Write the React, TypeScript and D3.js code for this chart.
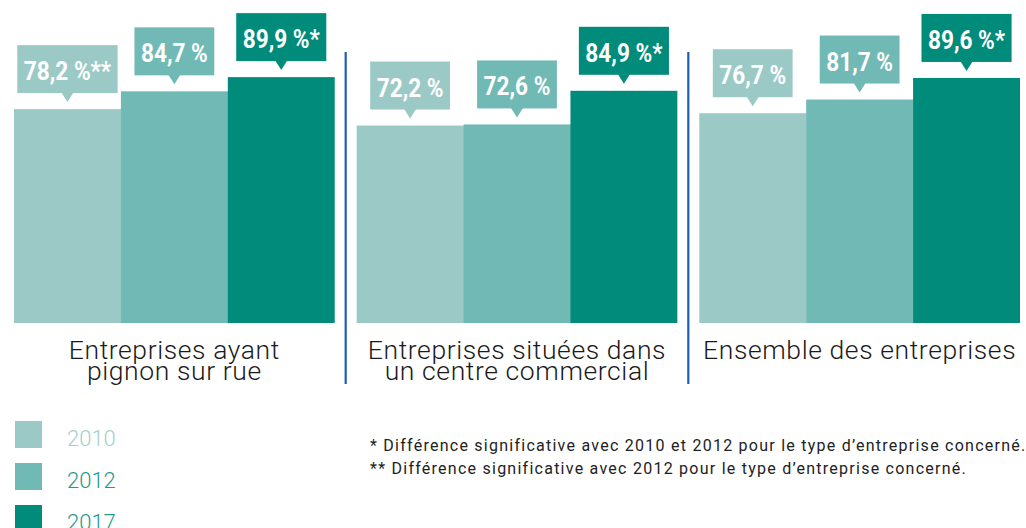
import React, { useEffect, useRef } from "react";
import * as d3 from "d3";

const categories = ["g1", "g2", "g3"];
const categoryLines = [
  ["Entreprises ayant", "pignon sur rue"],
  ["Entreprises situées dans", "un centre commercial"],
  ["Ensemble des entreprises"],
];
const years = ["2010", "2012", "2017"];
const values2010 = [78.2, 72.2, 76.7];
const values2012 = [84.7, 72.6, 81.7];
const values2017 = [89.9, 84.9, 89.6];
const marks2010 = ["**", "", ""];
const marks2012 = ["", "", ""];
const marks2017 = ["*", "*", "*"];
const footnotes = [
  "* Différence significative avec 2010 et 2012 pour le type d’entreprise concerné.",
  "** Différence significative avec 2012 pour le type d’entreprise concerné.",
];

const colors = ["#9bcac6", "#71b9b4", "#008b7b"];
const legendTextColors = ["#a3d0cc", "#23998b", "#23998b"];

export default function App() {
  const ref = useRef<SVGSVGElement | null>(null);

  useEffect(() => {
    const svg = d3.select(ref.current);
    svg.selectAll("*").remove();

    const seriesValues = [values2010, values2012, values2017];
    const seriesMarks = [marks2010, marks2012, marks2017];

    const x0 = d3.scaleBand<string>().domain(categories).range([14, 1020]).paddingInner(0.064).paddingOuter(0);
    const x1 = d3.scaleBand<string>().domain(years).range([0, x0.bandwidth()]).padding(0);
    const y = d3.scaleLinear().domain([0, 100]).range([323, 49.5]);

    const fmt = (v: number) => d3.format(".1f")(v).replace(".", ",") + " %";

    const g = svg.append("g");

    // bars
    categories.forEach((c, ci) => {
      years.forEach((yr, yi) => {
        const v = seriesValues[yi][ci];
        g.append("rect")
          .attr("x", (x0(c) as number) + (x1(yr) as number))
          .attr("y", y(v))
          .attr("width", x1.bandwidth() + (yi < 2 ? 0.5 : 0))
          .attr("height", y(0) - y(v))
          .attr("fill", colors[yi]);
      });
    });

    // callouts
    const sx = 0.87;
    categories.forEach((c, ci) => {
      years.forEach((yr, yi) => {
        const v = seriesValues[yi][ci];
        const cx = (x0(c) as number) + (x1(yr) as number) + x1.bandwidth() / 2;
        const top = y(v);
        const boxBottom = top - 16;
        const boxTop = boxBottom - 48;
        const cg = g.append("g");
        const rect = cg.append("rect").attr("fill", colors[yi]);
        cg.append("path")
          .attr("d", `M${cx - 6},${boxBottom - 0.5}L${cx + 6},${boxBottom - 0.5}L${cx},${boxBottom + 9}Z`)
          .attr("fill", colors[yi]);
        const t = cg
          .append("text")
          .attr("transform", `translate(${cx},${boxTop + 35}) scale(${sx},1)`)
          .attr("text-anchor", "middle")
          .attr("font-family", "Roboto, sans-serif")
          .attr("font-weight", 700)
          .attr("font-size", 26)
          .attr("fill", "#ffffff")
          .text(fmt(v) + seriesMarks[yi][ci]);
        const w = (t.node() as SVGTextElement).getComputedTextLength() * sx;
        const bw = w + 13;
        rect.attr("x", cx - bw / 2).attr("y", boxTop).attr("width", bw).attr("height", 48);
      });
    });

    // separators
    [1, 2].forEach((i) => {
      const xs = (x0(categories[i]) as number) - (x0.step() - x0.bandwidth()) / 2;
      g.append("line")
        .attr("x1", xs)
        .attr("x2", xs)
        .attr("y1", 52)
        .attr("y2", 384)
        .attr("stroke", "#1f5eae")
        .attr("stroke-width", 2.2);
    });

    // category labels
    categories.forEach((c, ci) => {
      const cx = (x0(c) as number) + x0.bandwidth() / 2;
      const t = g
        .append("text")
        .attr("text-anchor", "middle")
        .attr("font-family", "Roboto, sans-serif")
        .attr("font-weight", 300)
        .attr("font-size", 26.5)
        .attr("letter-spacing", 0.6)
        .attr("fill", "#1a1a1a");
      categoryLines[ci].forEach((line, li) => {
        t.append("tspan")
          .attr("x", cx)
          .attr("y", 359 + li * 21)
          .text(line);
      });
    });

    // legend
    years.forEach((yr, i) => {
      g.append("rect")
        .attr("x", 15)
        .attr("y", 421 + i * 42)
        .attr("width", 27)
        .attr("height", 27)
        .attr("fill", colors[i]);
      g.append("text")
        .attr("x", 67)
        .attr("y", 446 + i * 42)
        .attr("font-family", "Roboto, sans-serif")
        .attr("font-weight", 300)
        .attr("font-size", 22)
        .attr("fill", legendTextColors[i])
        .text(yr);
    });

    // footnotes
    footnotes.forEach((f, i) => {
      g.append("text")
        .attr("x", 370)
        .attr("y", 451 + i * 23)
        .attr("font-family", "Roboto, sans-serif")
        .attr("font-weight", 400)
        .attr("font-size", 16)
        .attr("letter-spacing", 1.25)
        .attr("fill", "#222222")
        .text(f);
    });
  }, []);

  return (
    <svg
      ref={ref}
      width={1026}
      height={528}
      style={{ position: "absolute", left: 0, top: 0, display: "block", background: "#ffffff" }}
    />
  );
}
